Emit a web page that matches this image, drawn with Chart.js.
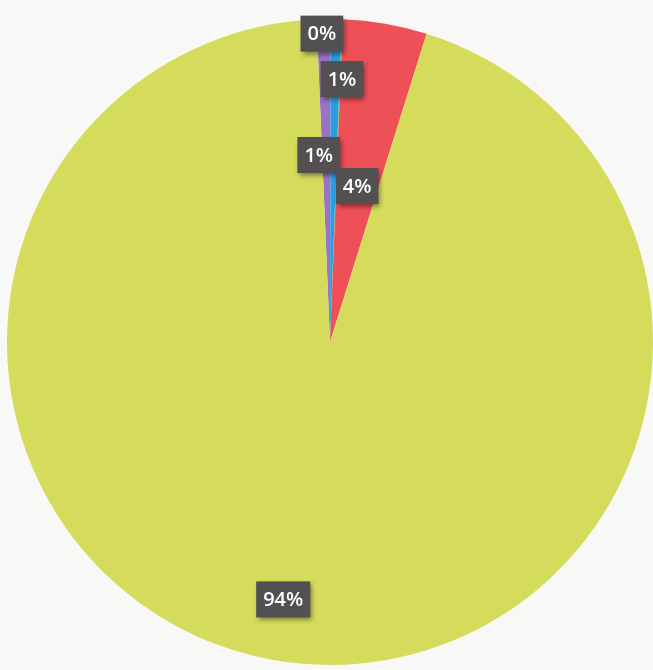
<!DOCTYPE html>
<html>
<head>
<meta charset="utf-8">
<script src="https://cdn.jsdelivr.net/npm/chart.js@4.4.1/dist/chart.umd.min.js"></script>
<style>
  html, body { margin: 0; padding: 0; background: #f8f8f6; }
  #wrap { width: 653px; height: 670px; }
</style>
</head>
<body>
<div id="wrap"><canvas id="pieChart"></canvas></div>
<script>
// slices, clockwise from just left of the top
const categories = ["Purple", "Blue", "Other", "Red", "Yellow"];
const shares = [0.7, 0.55, 0.05, 4.2, 94.5];
const shownLabels = ["1%", "1%", "0%", "4%", "94%"];

const sliceColors = ["#9a72c6", "#2b9ee0", "#6bb86a", "#ee5058", "#d5dc5c"];

// label placement: [angle shift from slice middle (deg), fraction of radius]
const labelPlace = [[-2.3, 0.58], [1.5, 0.815], [-3.7, 0.955], [0, 0.49], [2.8, 0.81]];

const boxLabels = {
  id: "boxLabels",
  afterDatasetsDraw(chart) {
    const ctx = chart.ctx;
    const meta = chart.getDatasetMeta(0);
    ctx.save();
    ctx.font = "600 20px 'Open Sans', sans-serif";
    ctx.textAlign = "center";
    ctx.textBaseline = "middle";
    meta.data.forEach(function (arc, i) {
      const mid = (arc.startAngle + arc.endAngle) / 2 + labelPlace[i][0] * Math.PI / 180;
      const r = arc.outerRadius * labelPlace[i][1];
      const x = arc.x + Math.cos(mid) * r;
      const y = arc.y + Math.sin(mid) * r;
      const txt = shownLabels[i];
      const w = ctx.measureText(txt).width + 14;
      const h = 36;
      ctx.shadowColor = "rgba(0,0,0,0.45)";
      ctx.shadowBlur = 5;
      ctx.shadowOffsetX = 2;
      ctx.shadowOffsetY = 3;
      ctx.fillStyle = "#525050";
      ctx.fillRect(x - w / 2, y - h / 2, w, h);
      ctx.shadowColor = "transparent";
      ctx.fillStyle = "#ffffff";
      ctx.fillText(txt, x, y + 1);
    });
    ctx.restore();
  }
};

new Chart("pieChart", {
  type: "pie",
  data: {
    labels: categories,
    datasets: [{
      data: shares,
      backgroundColor: sliceColors,
      borderWidth: 0
    }]
  },
  options: {
    responsive: true,
    maintainAspectRatio: false,
    animation: false,
    rotation: -2.4,
    layout: { padding: { left: 7, right: 0, top: 14, bottom: 0 } },
    plugins: {
      legend: { display: false },
      tooltip: { enabled: false }
    }
  },
  plugins: [boxLabels]
});
</script>
</body>
</html>
